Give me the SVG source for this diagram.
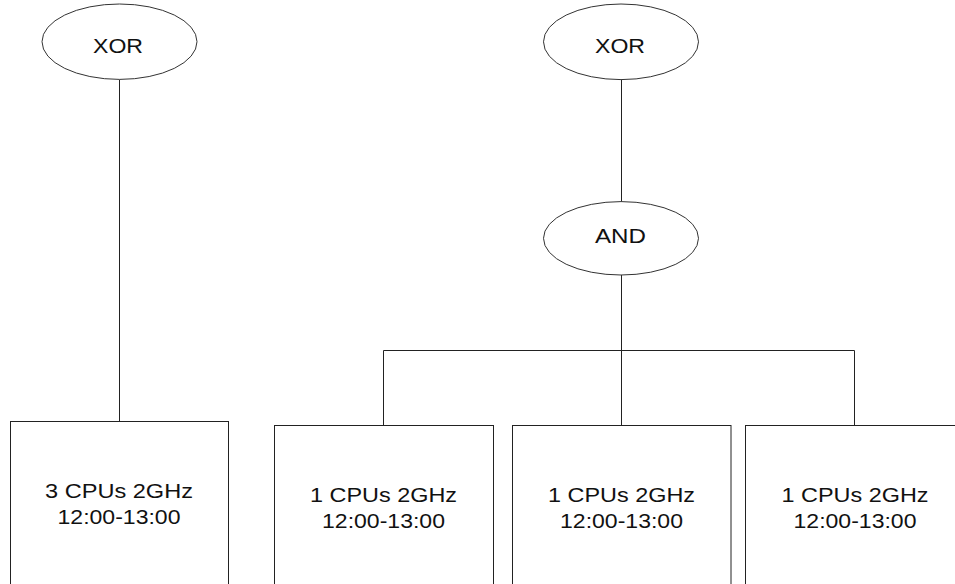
<svg xmlns="http://www.w3.org/2000/svg" width="955" height="584" viewBox="0 0 955 584">
  <style>
    .gate { fill: #ffffff; stroke: #333333; stroke-width: 1; }
    .box { fill: #ffffff; stroke: #222222; stroke-width: 1; }
    .wire { fill: none; stroke: #222222; stroke-width: 1; }
    .label { font-family: "Liberation Sans", Arial, sans-serif; font-size: 21px; fill: #111111; text-anchor: middle; }
  </style>
  <rect width="955" height="584" fill="#ffffff"/>

  <!-- connectors -->
  <g id="connectors">
    <path class="wire" d="M119.5 79.5 V422"/>
    <path class="wire" d="M621.5 80 V201.5"/>
    <path class="wire" d="M621.5 275 V426"/>
    <path class="wire" d="M383.5 426 V350.5 H854.5 V426"/>
  </g>

  <!-- left tree -->
  <g id="xor-left">
    <ellipse class="gate" cx="119.5" cy="41.7" rx="77.5" ry="37.7"/>
    <text class="label" x="118" y="53" textLength="50" lengthAdjust="spacingAndGlyphs">XOR</text>
  </g>
  <g id="res-left">
    <rect class="box" x="10.5" y="421.5" width="218" height="220"/>
    <text class="label" x="119" y="497.5" textLength="148" lengthAdjust="spacingAndGlyphs">3 CPUs 2GHz</text>
    <text class="label" x="119" y="523.5" textLength="123" lengthAdjust="spacingAndGlyphs">12:00-13:00</text>
  </g>

  <!-- right tree -->
  <g id="xor-right">
    <ellipse class="gate" cx="621" cy="41.8" rx="77.5" ry="37.8"/>
    <text class="label" x="620" y="53" textLength="50" lengthAdjust="spacingAndGlyphs">XOR</text>
  </g>
  <g id="and">
    <ellipse class="gate" cx="621" cy="238.3" rx="77.5" ry="36.7"/>
    <text class="label" x="620.5" y="242.5" textLength="51" lengthAdjust="spacingAndGlyphs">AND</text>
  </g>
  <g id="res-1">
    <rect class="box" x="274.5" y="425.5" width="219" height="220"/>
    <text class="label" x="383.5" y="501.5" textLength="147" lengthAdjust="spacingAndGlyphs">1 CPUs 2GHz</text>
    <text class="label" x="383.5" y="527.5" textLength="123" lengthAdjust="spacingAndGlyphs">12:00-13:00</text>
  </g>
  <g id="res-2">
    <rect class="box" x="512.5" y="425.5" width="218.5" height="220"/>
    <text class="label" x="621.5" y="501.5" textLength="147" lengthAdjust="spacingAndGlyphs">1 CPUs 2GHz</text>
    <text class="label" x="621.5" y="527.5" textLength="123" lengthAdjust="spacingAndGlyphs">12:00-13:00</text>
  </g>
  <g id="res-3">
    <rect class="box" x="745.5" y="425.5" width="219" height="220"/>
    <text class="label" x="855" y="501.5" textLength="147" lengthAdjust="spacingAndGlyphs">1 CPUs 2GHz</text>
    <text class="label" x="855" y="527.5" textLength="123" lengthAdjust="spacingAndGlyphs">12:00-13:00</text>
  </g>
</svg>
